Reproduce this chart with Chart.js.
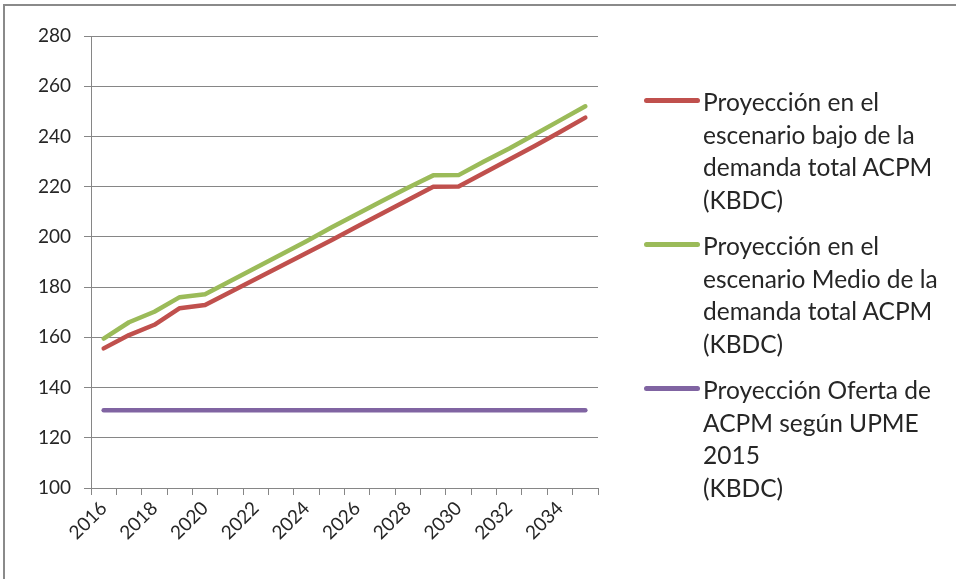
<!DOCTYPE html>
<html>
<head>
<meta charset="utf-8">
<script src="https://cdn.jsdelivr.net/npm/chart.js@4.4.1/dist/chart.umd.min.js"></script>
<style>
  html, body { margin: 0; padding: 0; background: #fff; }
  body { width: 956px; height: 579px; position: relative; overflow: hidden; font-family: Lato, "Open Sans", sans-serif; }
  #frame { position: absolute; left: 3px; top: 4px; width: 960px; height: 590px; border-top: 2px solid #8a8a8a; border-left: 2px solid #8a8a8a; box-sizing: border-box; }
  #chartBox { position: absolute; left: 0; top: 0; width: 956px; height: 579px; }
  #legend { position: absolute; left: 644px; top: 86px; color: #262626; font-size: 24.5px; line-height: 32.5px; }
  .item { position: relative; padding-left: 59px; margin-bottom: 14px; white-space: nowrap; }
  .swatch { position: absolute; left: 0; top: 12px; width: 56px; height: 5px; border-radius: 3px; }
</style>
</head>
<body>
<div id="frame"></div>
<div id="chartBox"><canvas id="chart" width="956" height="579"></canvas></div>
<div id="legend"></div>
<script>
document.addEventListener("DOMContentLoaded", () => {
  // ===== Data =====
  const years = ["2016", "2017", "2018", "2019", "2020", "2021", "2022", "2023", "2024", "2025",
                 "2026", "2027", "2028", "2029", "2030", "2031", "2032", "2033", "2034", "2035"];

  const bajo = [155.6, 160.9, 165.0, 171.6, 172.9, 178.1, 183.2, 188.4, 193.6, 198.8,
                204.1, 209.4, 214.7, 220.0, 220.1, 225.4, 230.8, 236.2, 241.8, 247.5];

  const medio = [159.5, 166.0, 170.2, 176.0, 177.2, 182.4, 187.7, 193.0, 198.3, 203.8,
                 209.1, 214.4, 219.6, 224.5, 224.6, 230.0, 235.2, 240.8, 246.4, 252.0];

  const oferta = [131, 131, 131, 131, 131, 131, 131, 131, 131, 131,
                  131, 131, 131, 131, 131, 131, 131, 131, 131, 131];

  const labelBajo = ["Proyección en el", "escenario bajo de la", "demanda total ACPM", "(KBDC)"];
  const labelMedio = ["Proyección en el", "escenario Medio de la", "demanda total ACPM", "(KBDC)"];
  const labelOferta = ["Proyección Oferta de", "ACPM según UPME", "2015", "(KBDC)"];

  const yTicks = [100, 120, 140, 160, 180, 200, 220, 240, 260, 280];

  const gridColor = "#868686";
  const textColor = "#262626";

  const series = [
    { lines: labelBajo, data: bajo, color: "#C0504D" },
    { lines: labelMedio, data: medio, color: "#9BBB59" },
    { lines: labelOferta, data: oferta, color: "#8064A2" }
  ];

  // ===== Chart =====
  const ctx = document.getElementById("chart").getContext("2d");
  new Chart(ctx, {
    type: "line",
    data: {
      labels: years,
      datasets: series.map(s => ({
        label: s.lines.join(" "),
        data: s.data,
        borderColor: s.color,
        backgroundColor: s.color,
        borderWidth: 4.5,
        borderCapStyle: "round",
        borderJoinStyle: "round",
        pointRadius: 0,
        tension: 0,
        fill: false
      }))
    },
    options: {
      responsive: false,
      animation: false,
      devicePixelRatio: 1,
      layout: { padding: { left: 0, top: 36, right: 358, bottom: 0 } },
      plugins: { legend: { display: false }, tooltip: { enabled: false } },
      scales: {
        x: {
          offset: true,
          grid: { offset: true, drawOnChartArea: false, drawTicks: true, tickLength: 7, color: gridColor },
          border: { display: true, color: gridColor, width: 1 },
          ticks: {
            autoSkip: false,
            minRotation: 45,
            maxRotation: 45,
            padding: 2,
            color: textColor,
            font: { family: "Lato", size: 19 },
            callback: function (val, i) { return i % 2 === 0 ? years[i] : ""; }
          },
          afterFit: (scale) => { scale.height = 91; }
        },
        y: {
          min: yTicks[0],
          max: yTicks[yTicks.length - 1],
          afterBuildTicks: (scale) => { scale.ticks = yTicks.map(v => ({ value: v })); },
          grid: { color: gridColor, tickLength: 7, lineWidth: 1 },
          border: { display: true, color: gridColor, width: 1 },
          ticks: {
            padding: 13,
            color: textColor,
            font: { family: "Lato", size: 19 }
          },
          afterFit: (scale) => { scale.width = 91; }
        }
      }
    }
  });

  // ===== Legend (HTML, wrapped text) =====
  const legendEl = document.getElementById("legend");
  legendEl.innerHTML = series.map(s => `
    <div class="item">
      <span class="swatch" style="background:${s.color}"></span>
      ${s.lines.join("<br>")}
    </div>`).join("");
});
</script>
</body>
</html>
